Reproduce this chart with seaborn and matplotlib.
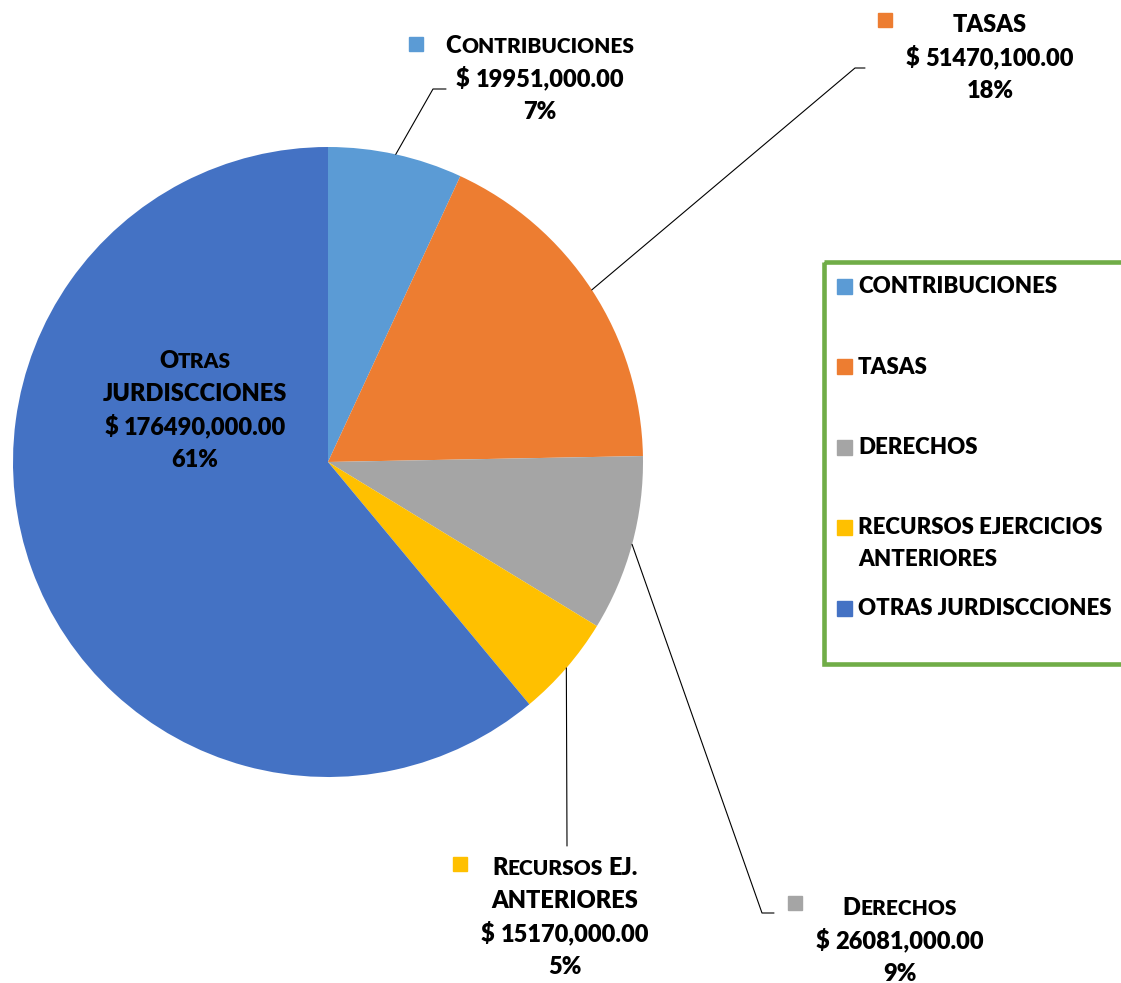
import matplotlib
matplotlib.use('Agg')
import matplotlib.pyplot as plt
import seaborn as sns
import numpy as np
from matplotlib.patches import Rectangle

# Chart data
categories = ['CONTRIBUCIONES', 'TASAS', 'DERECHOS',
              'RECURSOS EJERCICIOS\nANTERIORES', 'OTRAS JURDISCCIONES']
slice_titles = ['Contribuciones', 'TASAS', 'Derechos',
                'Recursos EJ.\nANTERIORES', 'Otras\nJURDISCCIONES']
amounts = [19951000.00, 51470100.00, 26081000.00, 15170000.00, 176490000.00]
colors = ['#5B9BD5', '#ED7D31', '#A5A5A5', '#FFC000', '#4472C4']

W, H = 1121, 983

sns.set_theme(style='white')
plt.rcParams['font.family'] = ['Lato', 'DejaVu Sans']
WEIGHT = 'heavy'

fig = plt.figure(figsize=(W / 100, H / 100), dpi=100)
ax = fig.add_axes([0, 0, 1, 1])

# y axis runs downward (pixel-like), so start at 270 and go counterclock in data
wedges, _ = ax.pie(amounts, colors=sns.color_palette(colors), center=(328, 462),
                   radius=315, startangle=270, counterclock=True,
                   wedgeprops=dict(linewidth=0))
ax.set_xlim(0, W)
ax.set_ylim(H, 0)
ax.set_aspect('equal')
ax.axis('off')

renderer = fig.canvas.get_renderer()
BIG, SMALL = 17, 15
LINE = 33


def fmt_amount(v):
    v = int(round(v))
    return f"$ {v // 1000},{v % 1000:03d}.00"


def smallcaps(x, y, s, color='black'):
    # lowercase letters are drawn as smaller capitals, like Excel small caps
    runs = []
    for ch in s:
        kind = 'sp' if ch == ' ' else ch.islower()
        if runs and runs[-1][1] == kind:
            runs[-1][0] += ch
        else:
            runs.append([ch, kind])
    items = []
    for txt, kind in runs:
        if kind == 'sp':
            items.append((None, BIG * 100 / 72 * 0.24 * len(txt)))
            continue
        t = ax.text(0, y, txt.upper(), fontsize=SMALL if kind else BIG,
                    fontweight=WEIGHT, color=color, ha='left', va='baseline')
        items.append((t, t.get_window_extent(renderer).width))
    left = x - sum(w for _, w in items) / 2
    for t, w in items:
        if t is not None:
            t.set_x(left)
        left += w


total = sum(amounts)
pcts = [f"{round(a / total * 100):.0f}%" for a in amounts]

# label layout: centre x, first baseline, marker square, leader line elbow/end
label_x = [540, 990, 900, 565, 195]
label_y = [53, 32, 915, 875, 368]
square_xy = [(416, 44), (885, 20), (795, 903), (460, 864), None]
leader = [[(433, 89), (446, 89)], [(855, 68), (865, 68)],
          [(762, 913), (774, 913)], [(567, 846)], None]

for i, w in enumerate(wedges):
    lines = slice_titles[i].split('\n') + [fmt_amount(amounts[i]), pcts[i]]
    for j, ln in enumerate(lines):
        smallcaps(label_x[i], label_y[i] + j * LINE, ln)
    if square_xy[i] is not None:
        ax.plot(*square_xy[i], marker='s', markersize=10.5, color=colors[i],
                linestyle='none')
    if leader[i] is not None:
        mid = np.deg2rad((w.theta1 + w.theta2) / 2)
        sx = w.center[0] + w.r * np.cos(mid)
        sy = w.center[1] + w.r * np.sin(mid)
        pts = [(sx, sy)] + leader[i]
        ax.plot([p[0] for p in pts], [p[1] for p in pts], color='black', lw=0.8)

# legend box
ax.add_patch(Rectangle((823.5, 261.5), 320, 402, fill=False,
                       edgecolor='#70AD47', linewidth=3.3))
leg_y = [285.5, 366, 446.5, 527, 607.5]
for i, cat in enumerate(categories):
    ax.plot(843.5, leg_y[i], marker='s', markersize=10.8, color=colors[i],
            linestyle='none')
    for j, ln in enumerate(cat.split('\n')):
        ax.text(858, leg_y[i] + 7.5 + j * 32, ln, fontsize=BIG - 1,
                fontweight=WEIGHT, color='black', ha='left', va='baseline')

fig.savefig('out.png', dpi=100)
